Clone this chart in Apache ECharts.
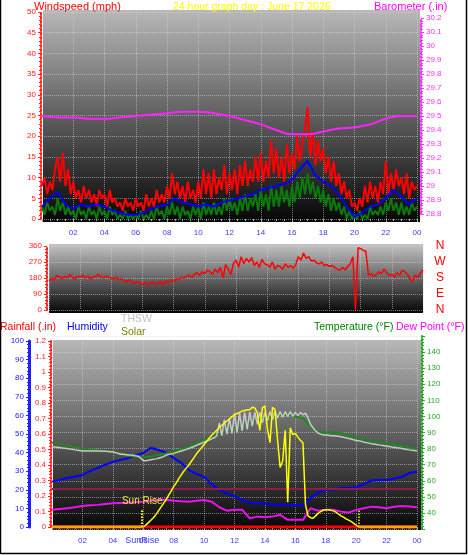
<!DOCTYPE html>
<html><head><meta charset="utf-8">
<script src="https://cdn.jsdelivr.net/npm/echarts@6/dist/echarts.min.js"></script>
<style>html,body{margin:0;padding:0;background:#fff}#c{width:468px;height:555px}</style>
</head><body><div id="c"></div>
<script>
// ---------- DATA ----------
const hourLabels = ['', '02', '04', '06', '08', '10', '12', '14', '16', '18', '20', '22', '00'];
// wind gust (mph), every 10 minutes 00:00..24:00
const gust = [
 8,10,6,9,7,12, 15,9,16,8,12,6, 9,5,7,4,8,5, 7,4,6,3,7,5, 6,3,7,4,5,3, 4,2,5,3,4,2,
 5,3,4,2,6,3, 5,3,7,4,6,4, 8,5,11,6,9,5, 8,4,9,5,7,4, 9,5,12,6,11,5, 12,6,10,7,13,6,
 11,7,12,6,13,8, 14,8,12,9,15,9, 16,9,14,10,19,11, 17,10,15,9,18,11, 16,12,20,14,18,22, 27,15,21,13,19,14,
 17,11,15,9,14,8, 11,6,9,5,7,3, 4,2,5,3,8,4, 9,5,8,4,9,6, 14,6,11,7,12,8, 10,6,11,5,9,7, 8];
// wind speed (mph), every 10 minutes
const speed = [
 3,1,4,2,3,1, 5,2,4,1,3,1, 2,0,3,1,2,0, 3,1,2,0,3,1, 2,0,3,1,2,0, 1,0,2,0,1,0,
 1,0,2,0,1,0, 2,0,3,1,2,0, 3,1,4,1,3,0, 3,1,2,0,3,1, 3,0,4,1,3,1, 4,1,3,1,5,2,
 5,2,4,1,5,2, 6,2,5,3,6,2, 7,3,6,2,8,3, 7,3,8,4,7,3, 8,4,9,5,10,6, 11,6,9,5,8,4,
 7,3,6,2,5,2, 4,1,3,0,2,0, 1,0,2,0,1,0, 3,1,2,1,3,1, 4,2,5,2,4,1, 4,1,3,1,4,2, 3];
// average wind (mph), every 30 minutes
const avgWind = [3,5,6.5,3.5,2.5,3.5,3,3.5,3,2,1.5,1,1,1.5,2.5,3,3.5,5,4,3.5,3,3.5,3,4,4.5,5,5.5,6,7,7.5,8,8.5,9.5,12,14,10.5,9,8,6,3,0.5,1.5,3,3.5,5,7,5.5,3.5,5];
// barometer (in), hourly
const baro = [29.50,29.49,29.49,29.48,29.48,29.49,29.50,29.51,29.52,29.53,29.53,29.52,29.50,29.47,29.44,29.40,29.37,29.37,29.39,29.41,29.42,29.44,29.48,29.50,29.50];
// wind direction (deg), every 10 minutes
const windDir = [
 165,180,170,195,185,175, 190,180,200,185,175,190, 185,195,180,190,175,185, 190,200,185,180,190,185,
 180,175,185,170,175,165, 160,170,155,150,160,150, 145,155,140,150,160,145, 150,160,140,165,155,170,
 160,175,170,185,180,190, 195,185,200,210,195,215, 205,225,215,200,230,210, 240,180,255,230,200,260,
 280,240,300,260,290,270, 295,250,270,240,285,260, 255,240,270,230,250,245, 230,260,240,250,235,255,
 300,280,320,290,300,275, 280,265,260,270,250,255, 245,250,240,230,225,240, 225,245,260,300,0,350,
 345,335,330,195,205,190, 200,215,205,230,210,195, 200,185,210,195,225,215, 200,175,160,195,185,205, 225];
const dirLabels = ['N', 'W', 'S', 'E', 'N'];
// temperature (F), every 30 minutes
const temp = [83.7,83,82,81,80,79.5,79,78.5,78,77,75.5,75,74.5,75,76,77,78,79.5,81,83,85,87,89,91,93,94.5,96,97.5,99,100,101,101,100,99,93.5,90.5,90,90,89.5,88,86.5,85.5,84.7,84,83.5,82.5,81.6,80.5,79.7];
// dew point (F), every 30 minutes
const dew = [41.9,42.5,42.9,43.5,44.3,44.7,45,45.5,46,46.2,46.4,46.8,47,47.5,48,48.2,47.6,47.2,47,47.5,48,47,43.5,41.4,42,42,36.7,37.7,37.3,37.7,38.8,35.7,35.7,35.7,42.9,41.4,41.9,42,40.8,40.2,41.9,42.9,43.9,43.5,42.9,43.8,44.3,44,43.5];
// humidity (%), every 30 minutes
const humidity = [24.4,25.3,26.3,27,28,30,31.7,33.5,35,36,37,38.5,39.8,42.6,41.4,40,37,34.5,30.6,28.5,27,23,20,18,16.5,14.5,13,13,12.5,12,12,12,11.8,11.8,15.6,18.5,20,20,21,21,21.5,23,25,25.3,25.3,26,27,29,29.7];
// THSW index (F), every 10 minutes
const thsw = [
 81,81,80.8,80.6,80.4,80.2, 80,79.8,79.5,79.2,79,78.8, 78.5,78.5,78.5,78.5,78.5,78.5, 78.5,78.5,78.4,78.3,78.2,78.1,
 78,77.5,77,76.5,76.5,76.3, 76,76,75.8,75.5,75.3,74, 72.5,72.5,72.7,73,73.3,73.6, 74,74.5,75,76,76.3,76.6,
 77,77.5,78,78.5,79,79.5, 80,80.7,81.3,82,82.7,83.3, 84,84.7,85.3,86,86.7,88, 96,88,98,89,99,89.5,
 102,90,102,91,102.5,92, 102.7,94,102.7,95,102.7,96, 102.7,97.5,103,98,103,99, 103,99.5,103,100,103,100,
 102.5,100.5,102.5,101,102,99, 95,93,91,89.7,89,88.5, 88.5,88.3,88,88,87.8,87.6, 87.4,87,86.7,86.3,86,85.5,
 85,84.8,84.5,84,83.7,83.4, 83,82.8,82.6,82.3,82,81.8, 81.6,81.3,81,80.8,80.5,80.3, 80,79.7,79.5,79.2,79,78.8, 78.5];
// solar radiation (W/m2), every 10 minutes
const solar = [
 0,0,0,0,0,0, 0,0,0,0,0,0, 0,0,0,0,0,0, 0,0,0,0,0,0, 0,0,0,0,0,0, 0,0,0,0,0,0,
 0,15,35,55,75,100, 130,160,190,220,255,290, 325,355,390,420,450,475, 500,530,560,590,615,640,
 665,690,715,740,760,780, 800,820,840,855,870,890, 905,915,925,935,940,945, 945,965,960,920,780,960,
 975,790,680,965,945,700, 480,530,780,200,800,745, 755,725,700,680,180,90, 75,70,90,110,125,135,
 140,140,135,130,120,105, 90,80,65,55,45,30, 15,0,0,0,0,0, 0,0,0,0,0,0, 0,0,0,0,0,0, 0,0,0,0,0,0, 0];
// rainfall (in), hourly
const rain = [0,0,0,0,0,0,0,0,0,0,0,0,0,0,0,0,0,0,0,0,0,0,0,0,0];
const sunEvents = [5.93, 20.2]; // sunrise, sunset (hours)
const humidityRef = 20.5;

// ---------- CHART ----------
const FONT = 'Liberation Sans';
const xy = (arr, step) => arr.map((v, i) => [i * step, v]);
const chart = echarts.init(document.getElementById('c'), null, {renderer: 'canvas'});
const grad = (c0, c1) => new echarts.graphic.LinearGradient(0, 0, 0, 1, [{offset: 0, color: c0}, {offset: 1, color: c1}]);
const split = {show: true, lineStyle: {color: 'rgba(215,215,215,0.55)', type: 'dotted', width: 1}};
const hourFmt = v => hourLabels[Math.round(v / 2)] || '';
const MARK_H = 137;

function xAxis(gi, showLabels) {
  return {
    type: 'value', gridIndex: gi, min: 0, max: 24, interval: 2,
    axisLine: {show: false, onZero: false},
    axisTick: {show: showLabels, length: 3, lineStyle: {color: '#aaa'}},
    minorTick: {show: showLabels, splitNumber: 4, length: 2, lineStyle: {color: '#aaa'}},
    axisLabel: {show: showLabels, color: '#3a3aff', fontSize: 8, fontFamily: FONT, margin: 10, formatter: hourFmt, hideOverlap: false},
    splitLine: gi === 0 || gi === 2 || gi === 3 ? split : {show: false}
  };
}
function yAxis(o) {
  const c = o.color;
  return Object.assign({
    type: 'value',
    axisLine: {show: true, onZero: false, lineStyle: {color: c, type: o.solid ? 'solid' : 'dotted', width: o.solid ? 3 : 2}},
    axisTick: {show: true, length: 3, lineStyle: {color: c}},
    minorTick: {show: true, splitNumber: 5, length: 2, lineStyle: {color: c}},
    axisLabel: {color: c, fontSize: 8, fontFamily: FONT, margin: 5},
    splitLine: {show: false}
  }, o.extra);
}
const vLine = (x, label) => [Object.assign({coord: [x, 0]}, label ? {label} : {}), {coord: [x, MARK_H]}];

const option = {
  animation: false,
  backgroundColor: '#fff',
  grid: [
    {left: 42, top: 12, width: 375, height: 207},
    {left: 42, top: 18, width: 375, height: 196},
    {left: 49, top: 246, width: 374, height: 64},
    {left: 52, top: 341, width: 365, height: 186},
    {left: 52, top: 336, width: 365, height: 193}
  ],
  xAxis: [xAxis(0, true), xAxis(1, false), xAxis(2, false), xAxis(3, true), xAxis(4, false)],
  yAxis: [
    yAxis({color: '#ff2020', extra: {gridIndex: 0, position: 'left', offset: 1, min: 0, max: 50, interval: 5, splitLine: split}}),
    yAxis({color: '#ff30ff', extra: {gridIndex: 1, position: 'right', offset: 4, min: 28.8, max: 30.2, interval: 0.1}}),
    yAxis({color: '#ff2020', extra: {gridIndex: 2, position: 'left', offset: 2, min: 0, max: 360, interval: 90, splitLine: split}}),
    yAxis({color: '#2020ff', solid: true, extra: {gridIndex: 3, position: 'left', offset: 23, min: 0, max: 100, interval: 10}}),
    yAxis({color: '#ff2020', extra: {gridIndex: 3, position: 'left', offset: 1, min: 0, max: 1.2, interval: 0.1}}),
    {type: 'value', gridIndex: 3, show: false, min: 0, max: 1500},
    yAxis({color: '#22aa22', extra: {gridIndex: 4, position: 'right', offset: 5, min: 30, max: 150, interval: 10,
      splitLine: split,
      axisLabel: {color: '#22aa22', fontSize: 8, fontFamily: FONT, margin: 5, formatter: v => (v <= 30 || v >= 150) ? '' : v}}})
  ],
  series: [
    {type: 'line', name: 'Gust', xAxisIndex: 0, yAxisIndex: 0, data: xy(gust, 1 / 6), showSymbol: false, lineStyle: {color: '#ff0000', width: 2}, z: 2},
    {type: 'line', name: 'Speed', xAxisIndex: 0, yAxisIndex: 0, data: xy(speed, 1 / 6), showSymbol: false, lineStyle: {color: '#0a7a0a', width: 2}, z: 3},
    {type: 'line', name: 'Average', xAxisIndex: 0, yAxisIndex: 0, data: xy(avgWind, 0.5), showSymbol: false, lineStyle: {color: '#0000ff', width: 2}, z: 4},
    {type: 'line', name: 'Barometer', xAxisIndex: 1, yAxisIndex: 1, data: xy(baro, 1), smooth: true, showSymbol: false, lineStyle: {color: '#ff22ff', width: 2}, z: 5},
    {type: 'line', name: 'Direction', xAxisIndex: 2, yAxisIndex: 2, data: xy(windDir, 1 / 6), showSymbol: false, lineStyle: {color: '#ff0000', width: 1.5}},
    {type: 'line', name: 'Rainfall', xAxisIndex: 3, yAxisIndex: 4, data: xy(rain, 1), showSymbol: false, lineStyle: {color: '#ff0000', width: 3}, z: 2},
    {type: 'line', name: 'Humidity', xAxisIndex: 3, yAxisIndex: 3, data: xy(humidity, 0.5), showSymbol: false, lineStyle: {color: '#0000ff', width: 2}, z: 3,
      markLine: {silent: true, symbol: ['none', 'none'], label: {show: false}, lineStyle: {color: '#8c1c4c', width: 2, type: 'solid'}, data: [{yAxis: humidityRef}]}},
    {type: 'line', name: 'Dew Point', xAxisIndex: 4, yAxisIndex: 6, data: xy(dew, 0.5), showSymbol: false, lineStyle: {color: '#ee11ee', width: 2}, z: 4},
    {type: 'line', name: 'Temperature', xAxisIndex: 4, yAxisIndex: 6, data: xy(temp, 0.5), showSymbol: false, lineStyle: {color: '#1e8a1e', width: 2}, z: 5},
    {type: 'line', name: 'THSW', xAxisIndex: 4, yAxisIndex: 6, data: xy(thsw, 1 / 6), showSymbol: false, lineStyle: {color: '#c8c8c8', width: 1.5}, z: 6},
    {type: 'line', name: 'SunMarks', xAxisIndex: 3, yAxisIndex: 5, data: xy(rain, 1), showSymbol: false, lineStyle: {opacity: 0}, z: 8,
      markLine: {silent: true, symbol: ['none', 'none'], label: {show: false}, lineStyle: {color: '#ffff00', type: 'dotted', width: 1.5},
        data: [
          vLine(sunEvents[0], {show: true, position: 'end', formatter: 'Sun Rise', color: '#e8e830', fontSize: 10, fontFamily: FONT, distance: 4}),
          vLine(sunEvents[0], {show: true, position: 'start', formatter: 'SunRise', color: '#3a3aff', fontSize: 9, fontFamily: FONT, distance: 9}),
          vLine(sunEvents[1], null)
        ]}},
    {type: 'line', name: 'Solar', xAxisIndex: 3, yAxisIndex: 5, data: xy(solar, 1 / 6), showSymbol: false, lineStyle: {color: '#ffff00', width: 1.5}, z: 7},
    {type: 'line', name: 'SolarNight', xAxisIndex: 3, yAxisIndex: 5, data: xy(solar.map(v => v === 0 ? v : null), 1 / 6), connectNulls: false, showSymbol: false, lineStyle: {color: '#ffa500', width: 3}, z: 7}
  ],
  graphic: [
    {type: 'rect', z: -10, shape: {x: 43, y: 10, width: 377, height: 212}, style: {fill: grad('#b8b8b8', '#060606')}},
    {type: 'rect', z: -10, shape: {x: 49, y: 244, width: 374, height: 69}, style: {fill: grad('#c4c4c4', '#050505')}},
    {type: 'rect', z: -10, shape: {x: 53, y: 340, width: 368, height: 190}, style: {fill: grad('#b8b8b8', '#060606')}},
    {type: 'polyline', z: 10, shape: {points: [[0.5, 0], [0.5, 553.5], [466.5, 553.5], [466.5, 0]]}, style: {stroke: '#000', lineWidth: 1.5, fill: null}},
    {type: 'text', x: 34, y: 7, style: {text: 'Windspeed (mph)', fill: '#ff0000', font: '11px ' + FONT, textVerticalAlign: 'middle'}},
    {type: 'text', x: 173, y: 7, style: {text: '24 hour graph day : June 17 2026', fill: '#ffff00', font: '10.5px ' + FONT, textVerticalAlign: 'middle'}},
    {type: 'text', x: 374, y: 7, style: {text: 'Barometer (.in)', fill: '#ff00ff', font: '11px ' + FONT, textVerticalAlign: 'middle'}},
    ...dirLabels.map((t, i) => ({type: 'text', x: 440, y: 246 + i * 16, style: {text: t, fill: '#ff0000', font: '12px ' + FONT, textAlign: 'center', textVerticalAlign: 'middle'}})),
    {type: 'text', x: 0, y: 327, style: {text: 'Rainfall (.in)', fill: '#ff0000', font: '10.5px ' + FONT, textVerticalAlign: 'middle'}},
    {type: 'text', x: 67, y: 327, style: {text: 'Humidity', fill: '#0000ff', font: '10.5px ' + FONT, textVerticalAlign: 'middle'}},
    {type: 'text', x: 121, y: 319, style: {text: 'THSW', fill: '#c0c0c0', font: '10.5px ' + FONT, textVerticalAlign: 'middle'}},
    {type: 'text', x: 121, y: 332, style: {text: 'Solar', fill: '#808000', font: '10.5px ' + FONT, textVerticalAlign: 'middle'}},
    {type: 'text', x: 314, y: 327, style: {text: 'Temperature (°F)', fill: '#008000', font: '10.5px ' + FONT, textVerticalAlign: 'middle'}},
    {type: 'text', x: 396, y: 327, style: {text: 'Dew Point (°F)', fill: '#ff00ff', font: '10.5px ' + FONT, textVerticalAlign: 'middle'}}
  ]
};
chart.setOption(option);
</script></body></html>
